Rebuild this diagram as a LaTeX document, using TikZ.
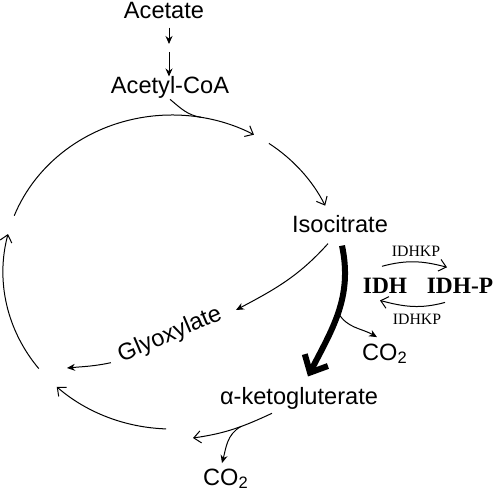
\documentclass[tikz,border=0pt]{standalone}
\usepackage{fontspec}
\setmainfont{Liberation Sans}
\newfontfamily\serifidh{Liberation Serif}
\usetikzlibrary{arrows.meta, positioning, calc}

\begin{document}
\begin{tikzpicture}[
    x=0.5pt, y=0.5pt,
    >=Stealth,
    metab/.style={inner sep=0pt, anchor=base, font=\fontsize{11.8}{14}\selectfont},
    enzyme/.style={inner sep=0pt, anchor=base, font=\fontsize{11.7}{14}\selectfont\serifidh\bfseries},
    kinase/.style={inner sep=0pt, anchor=base, font=\fontsize{7.9}{9}\selectfont\serifidh},
    cycle/.style={line width=0.5pt, -{Straight Barb[length=3.5pt, width=6pt]}},
    flow/.style={line width=0.5pt, -{Stealth[length=4pt, width=3.5pt]}},
    branch/.style={line width=0.5pt},
    major/.style={line width=3pt, -{Straight Barb[length=7pt, width=13pt]}}
]
\useasboundingbox (0,0) rectangle (498,493);

% ==============================================================================
% METABOLITES
% ==============================================================================
\node[metab] (acetate) at (164,474) {Acetate};
\node[metab] (acetyl) at (170,399) {Acetyl-CoA};
\node[metab] (isocit) at (340,260) {Isocitrate};
\node[metab, anchor=center, rotate=23] (glyox) at (170,158) {Glyoxylate};
\node[metab] (aketo) at (299,89) {α-ketogluterate};
\node[metab] (co2r) at (385,133) {CO\textsubscript{2}};
\node[metab] (co2b) at (226,8) {CO\textsubscript{2}};

% ==============================================================================
% IDH PHOSPHORYLATION
% ==============================================================================
\node[enzyme] (idh) at (385,199) {IDH};
\node[enzyme] (idhp) at (460,199) {IDH-P};
\node[kinase] (kintop) at (416,236) {IDHKP};
\node[kinase] (kinbot) at (417,168) {IDHKP};

\draw[cycle] ([shift={(-1.5pt,6pt)}]idh.north) to[out=15, in=165] ([shift={(-6.5pt,5.5pt)}]idhp.north);
\draw[cycle] ([shift={(-7.5pt,-4pt)}]idhp.south) to[out=195, in=-15] ([shift={(-2.5pt,-3pt)}]idh.south);

% ==============================================================================
% ACETATE UPTAKE
% ==============================================================================
\coordinate (mid) at (169,445);
\draw[flow, shorten <=4pt, shorten >=2pt] (acetate.south -| mid) -- (mid);
\draw[flow, shorten <=2pt] (mid) -- (acetyl.north -| mid);

% ==============================================================================
% GLYOXYLATE CYCLE
% ==============================================================================
\coordinate (ctr) at (172,221);
\coordinate (join) at ($(ctr)+(80:169 and 157)$);
\coordinate (glyin) at (236,183);
\coordinate (glyout) at (67,125);
\coordinate (akout) at (193,55);

\draw[cycle] ($(ctr)+(159:169 and 157)$) arc[start angle=159, end angle=61, x radius=169, y radius=157];
\draw[cycle] ($(ctr)+(55:169 and 157)$) arc[start angle=55, end angle=25, x radius=169, y radius=157];
\draw[cycle] ($(ctr)+(218:169 and 157)$) arc[start angle=218, end angle=166, x radius=169, y radius=157];
\draw[cycle] ($(ctr)+(268:169 and 157)$) arc[start angle=268, end angle=227, x radius=169, y radius=157];
\draw[branch] (acetyl.south) to[out=-40, in=171] (join);

\draw[flow] ([shift={(-6pt,-5pt)}]isocit.south) to[out=228, in=28] (glyin);
\draw[flow] ([shift={(-4pt,-3pt)}]glyox.west) to[out=192, in=5] (glyout);

\draw[major] ([shift={(1pt,-6pt)}]isocit.south) to[out=-78, in=63] coordinate[pos=0.5] (thkbr) ([shift={(4.5pt,5pt)}]aketo.north);
\draw[flow] (thkbr) to[out=-60, in=150] ([shift={(-4pt,3pt)}]co2r.north);

\draw[cycle] ([shift={(-13.5pt,-2pt)}]aketo.south) to[out=205, in=8] coordinate[pos=0.4] (akbr) (akout);
\draw[flow] (akbr) to[out=210, in=75] ([shift={(-2pt,2.5pt)}]co2b.north);

\end{tikzpicture}
\end{document}
